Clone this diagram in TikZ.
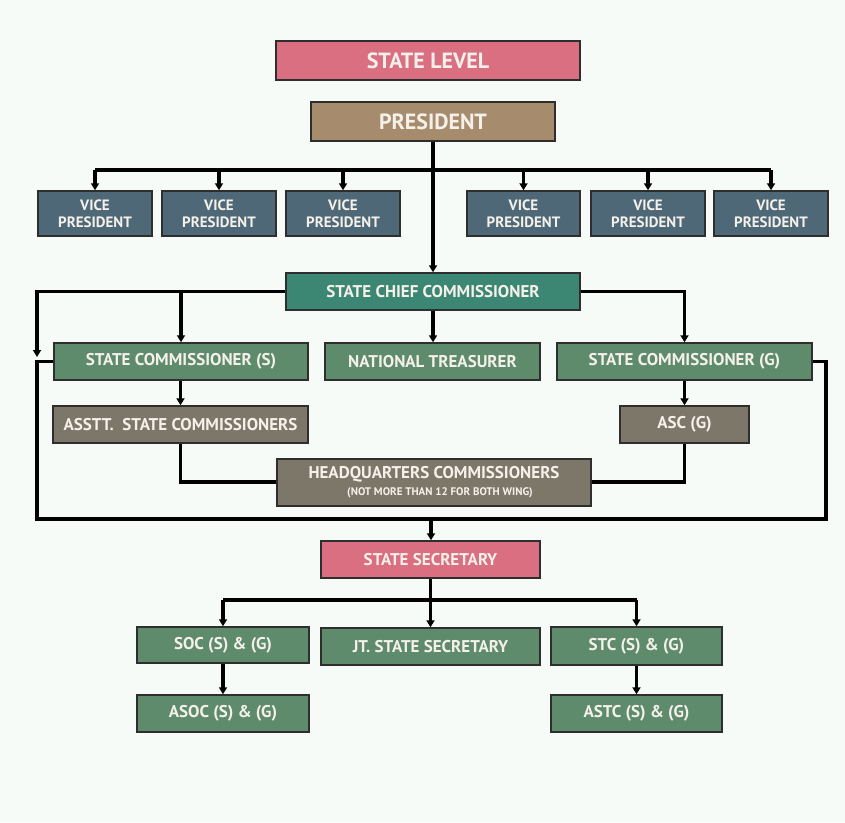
\documentclass[tikz,border=0pt]{standalone}
\usepackage{fontspec}
\setmainfont{PT Sans}
\usetikzlibrary{arrows.meta}
\definecolor{bgc}{HTML}{F6FBF8}
\definecolor{pinkc}{HTML}{D96F80}
\definecolor{tanc}{HTML}{A68B6D}
\definecolor{slatec}{HTML}{4E6878}
\definecolor{tealc}{HTML}{3C8774}
\definecolor{greenc}{HTML}{5E8B6C}
\definecolor{grayc}{HTML}{7D776A}
\definecolor{txtc}{HTML}{F5F1EA}
\definecolor{edgec}{HTML}{2E2E2E}
\tikzset{
  box/.style={draw=edgec, line width=1.5pt, fill=#1, text=txtc,
    font=\bfseries\fontsize{17}{19}\selectfont,
    align=center, inner sep=0pt, anchor=center},
  big/.style={font=\bfseries\fontsize{22}{24}\selectfont},
  vptext/.style={font=\bfseries\fontsize{15}{17.5}\selectfont},
  conn/.style={line width=3.2pt, black},
  arr/.style={conn, -{Triangle[length=7pt,width=8pt]}},
}
\newcommand{\bx}[8][]{% options, name, color, x1, y1, x2, y2, text
  \node[box=#3, #1, minimum width={(#6-#4)*1pt}, minimum height={(#7-#5)*1pt}]
    (#2) at ({(#4+#6)/2},{(#5+#7)/2}) {#8};}
\begin{document}
\begin{tikzpicture}[x=1pt,y=-1pt]
\fill[bgc] (0,0) rectangle (845,822);
\useasboundingbox (0,0) rectangle (845,822);

% top of the chart
\bx[big]{lvl}{pinkc}{276}{41}{580}{80}{STATE LEVEL}
\bx[big]{pres}{tanc}{311}{102}{555}{141}{PRESIDENT}

% vice presidents
\foreach \n/\a/\b in {vp1/38/152, vp2/162/276, vp3/286/400, vp4/467/580, vp5/591/705, vp6/714/828}{
  \bx[vptext]{\n}{slatec}{\a}{191}{\b}{236}{VICE\\PRESIDENT}
}

% commissioners
\bx{scc}{tealc}{286}{273}{580}{310}{STATE CHIEF COMMISSIONER}
\bx{scs}{greenc}{54}{343}{308}{380}{STATE COMMISSIONER (S)}
\bx{nt}{greenc}{325}{343}{540}{380}{NATIONAL TREASURER}
\bx{scg}{greenc}{557}{343}{812}{380}{STATE COMMISSIONER (G)}
\bx{asc}{grayc}{53}{406}{308}{443}{ASSTT.\ \ STATE COMMISSIONERS}
\bx{ascg}{grayc}{620}{406}{749}{443}{ASC (G)}
\bx{hq}{grayc}{277}{459}{591}{506}{HEADQUARTERS COMMISSIONERS\\[-2pt]
  {\fontsize{11}{12}\selectfont\hspace*{12pt}(NOT MORE THAN 12 FOR BOTH WING)}}

% secretariat
\bx{ss}{pinkc}{321}{541}{540}{578}{STATE SECRETARY}
\bx{soc}{greenc}{137}{627}{309}{663}{SOC (S) \& (G)}
\bx{jt}{greenc}{321}{628}{540}{665}{JT. STATE SECRETARY}
\bx{stc}{greenc}{551}{627}{722}{665}{STC (S) \& (G)}
\bx{asoc}{greenc}{137}{695}{309}{732}{ASOC (S) \& (G)}
\bx{astc}{greenc}{551}{695}{722}{732}{ASTC (S) \& (G)}

% junction points
\coordinate (pj) at (433,170);
\coordinate (lj) at (37,357);
\coordinate (bj) at (431,519);
\coordinate (sj) at (ss.south |- 0,600);

% president to vice presidents and chief commissioner
\draw[conn] (pres.south -| pj) -- (pj);
\draw[conn] (vp1.north |- pj) -- (vp6.north |- pj);
\foreach \n in {vp1,vp2,vp3,vp4,vp5,vp6}{
  \draw[arr] (\n.north |- pj) -- (\n.north);
}
\draw[arr] (pj) -- (scc.north -| pj);

% chief commissioner branches
\draw[arr] (scc.west) -- (scc.west -| lj) -- (lj);
\draw[arr] (scc.west -| scs.north) -- (scs.north);
\draw[arr] (scc.east) -| (scg.north);
\draw[arr] (scc.south -| pj) -- (nt.north -| pj);

% outer loop from both state commissioners to the secretary
\draw[conn] (scs.west) -- (scs.west -| lj) -- (bj -| lj) -- (826,519) |- (scg.east);
\draw[arr] (bj) -- (ss.north -| bj);

% assistants and headquarters
\draw[arr] (scs.south -| asc.north) -- (asc.north);
\draw[arr] (scg.south -| ascg.north) -- (ascg.north);
\draw[conn] (asc.south) |- (hq.west |- 0,482);
\draw[conn] (ascg.south) |- (hq.east |- 0,482);

% secretary to its offices
\draw[conn] (ss.south) -- (sj);
\draw[conn] (soc.north |- sj) -- (stc.north |- sj);
\draw[arr] (soc.north |- sj) -- (soc.north);
\draw[arr] (sj) -- (jt.north -| sj);
\draw[arr] (stc.north |- sj) -- (stc.north);
\draw[arr] (soc.south) -- (asoc.north);
\draw[arr] (stc.south) -- (astc.north);
\end{tikzpicture}
\end{document}
